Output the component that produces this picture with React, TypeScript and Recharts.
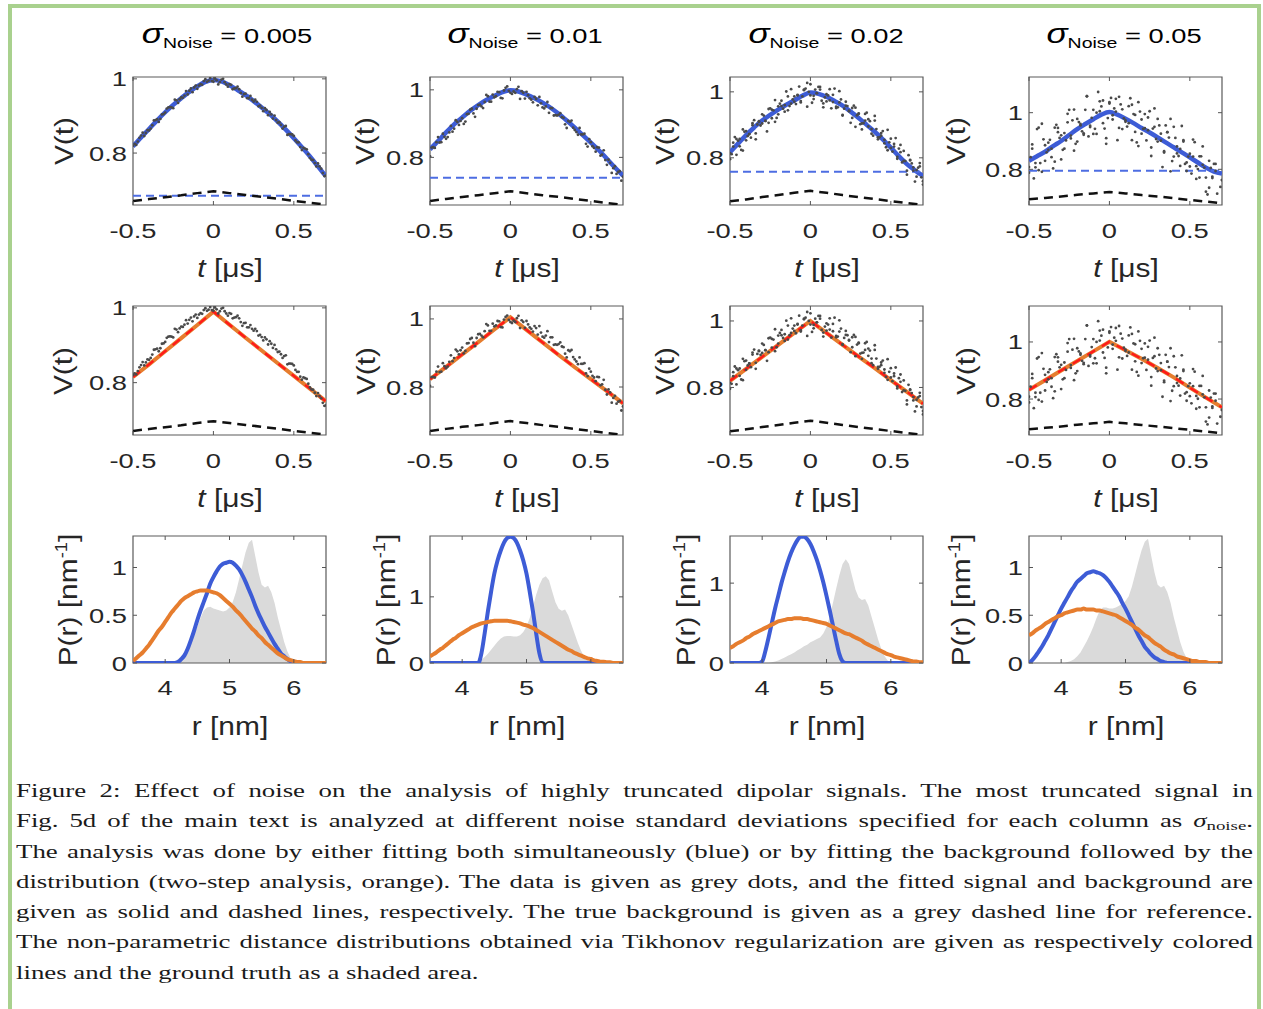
import React from 'react';
import {
  Area,
  ComposedChart,
  Line,
  ReferenceArea,
  ReferenceLine,
  Scatter,
  XAxis,
  YAxis,
} from 'recharts';

// ---- data ----

const noiseLevels = ['0.005', '0.01', '0.02', '0.05'];

// time axis of the noisy traces (interleaved sample sets)
const tData = [-0.5, -0.48, -0.46, -0.44, -0.42, -0.4, -0.38, -0.36, -0.34, -0.32, -0.3, -0.28, -0.26, -0.24, -0.22, -0.2, -0.18, -0.16, -0.14, -0.12, -0.1, -0.08, -0.06, -0.04, -0.02, 0, 0.02, 0.04, 0.06, 0.08, 0.1, 0.12, 0.14, 0.16, 0.18, 0.2, 0.22, 0.24, 0.26, 0.28, 0.3, 0.32, 0.34, 0.36, 0.38, 0.4, 0.42, 0.44, 0.46, 0.48, 0.5, 0.52, 0.54, 0.56, 0.58, 0.6, 0.62, 0.64, 0.66, 0.68, 0.7];
const tMid = [-0.49, -0.47, -0.45, -0.43, -0.41, -0.39, -0.37, -0.35, -0.33, -0.31, -0.29, -0.27, -0.25, -0.23, -0.21, -0.19, -0.17, -0.15, -0.13, -0.11, -0.09, -0.07, -0.05, -0.03, -0.01, 0.01, 0.03, 0.05, 0.07, 0.09, 0.11, 0.13, 0.15, 0.17, 0.19, 0.21, 0.23, 0.25, 0.27, 0.29, 0.31, 0.33, 0.35, 0.37, 0.39, 0.41, 0.43, 0.45, 0.47, 0.49, 0.51, 0.53, 0.55, 0.57, 0.59, 0.61, 0.63, 0.65, 0.67, 0.69];

const noisy1a = [0.820, 0.822, 0.841, 0.855, 0.854, 0.861, 0.875, 0.889, 0.884, 0.904, 0.909, 0.923, 0.923, 0.944, 0.935, 0.950, 0.955, 0.958, 0.974, 0.977, 0.973, 0.986, 0.994, 0.992, 1.002, 0.992, 0.996, 0.991, 1.000, 0.985, 0.986, 0.972, 0.975, 0.972, 0.952, 0.960, 0.948, 0.944, 0.944, 0.926, 0.922, 0.921, 0.902, 0.904, 0.901, 0.882, 0.876, 0.871, 0.849, 0.851, 0.846, 0.829, 0.816, 0.814, 0.810, 0.787, 0.781, 0.764, 0.764, 0.746, 0.739];
const noisy1b = [0.825, 0.831, 0.847, 0.846, 0.862, 0.866, 0.888, 0.891, 0.892, 0.905, 0.920, 0.924, 0.921, 0.942, 0.945, 0.949, 0.967, 0.968, 0.964, 0.982, 0.982, 0.984, 0.999, 0.995, 0.994, 1.001, 0.985, 0.998, 0.991, 0.979, 0.984, 0.974, 0.979, 0.962, 0.959, 0.948, 0.954, 0.939, 0.938, 0.928, 0.913, 0.916, 0.911, 0.893, 0.889, 0.883, 0.866, 0.873, 0.851, 0.850, 0.834, 0.829, 0.808, 0.812, 0.797, 0.782, 0.773, 0.772, 0.758, 0.738];
const noisy2a = [0.803, 0.830, 0.845, 0.844, 0.870, 0.855, 0.874, 0.876, 0.910, 0.896, 0.916, 0.906, 0.929, 0.944, 0.920, 0.955, 0.951, 0.964, 0.981, 0.965, 0.978, 0.994, 0.976, 0.998, 1.010, 0.991, 0.995, 1.002, 0.973, 0.991, 0.994, 0.975, 0.963, 0.973, 0.979, 0.948, 0.951, 0.932, 0.946, 0.925, 0.926, 0.919, 0.898, 0.908, 0.909, 0.881, 0.867, 0.868, 0.870, 0.832, 0.845, 0.828, 0.830, 0.805, 0.821, 0.778, 0.784, 0.768, 0.751, 0.759, 0.743];
const noisy2b = [0.829, 0.828, 0.860, 0.845, 0.861, 0.860, 0.893, 0.885, 0.905, 0.908, 0.899, 0.928, 0.941, 0.930, 0.944, 0.956, 0.946, 0.985, 0.965, 0.986, 0.981, 0.993, 0.975, 1.006, 0.997, 0.988, 0.991, 1.009, 0.996, 0.974, 0.984, 0.971, 0.979, 0.954, 0.960, 0.945, 0.964, 0.946, 0.924, 0.924, 0.931, 0.917, 0.887, 0.905, 0.888, 0.875, 0.887, 0.868, 0.840, 0.854, 0.833, 0.817, 0.829, 0.808, 0.792, 0.793, 0.754, 0.774, 0.757, 0.731];
const noisy3a = [0.814, 0.846, 0.809, 0.857, 0.886, 0.853, 0.872, 0.899, 0.856, 0.909, 0.932, 0.912, 0.906, 0.946, 0.975, 0.932, 0.957, 0.940, 0.986, 0.964, 0.986, 0.991, 0.968, 1.007, 1.027, 0.989, 0.978, 0.996, 1.015, 0.953, 0.993, 0.974, 0.991, 0.955, 1.002, 0.930, 0.958, 0.941, 0.921, 0.952, 0.935, 0.886, 0.913, 0.917, 0.887, 0.913, 0.856, 0.867, 0.844, 0.885, 0.830, 0.842, 0.797, 0.817, 0.821, 0.749, 0.794, 0.761, 0.763, 0.774, 0.719];
const noisy3b = [0.811, 0.863, 0.852, 0.824, 0.879, 0.866, 0.861, 0.914, 0.901, 0.898, 0.928, 0.880, 0.950, 0.944, 0.921, 0.964, 0.949, 1.001, 0.957, 0.977, 0.963, 1.016, 0.986, 1.010, 1.000, 0.967, 1.007, 1.015, 0.973, 0.983, 0.989, 0.950, 1.010, 0.953, 0.977, 0.949, 0.957, 0.906, 0.958, 0.929, 0.902, 0.905, 0.937, 0.911, 0.867, 0.887, 0.862, 0.881, 0.832, 0.847, 0.819, 0.860, 0.828, 0.786, 0.790, 0.808, 0.783, 0.728, 0.770, 0.741];
const noisy3c = [0.796, 0.834, 0.857, 0.835, 0.822, 0.881, 0.872, 0.905, 0.874, 0.911, 0.904, 0.912, 0.948, 0.920, 0.909, 0.956, 0.973, 0.960, 0.944, 1.008, 0.970, 0.989, 0.972, 1.005, 0.955, 1.023, 0.988, 0.996, 1.007, 0.965, 0.971, 1.008, 0.969, 0.951, 0.968, 0.928, 0.970, 0.943, 0.951, 0.894, 0.933, 0.904, 0.933, 0.895, 0.873, 0.927, 0.862, 0.875, 0.854, 0.823, 0.858, 0.834, 0.803, 0.839, 0.791, 0.761, 0.792, 0.771, 0.743, 0.784, 0.729];
const noisy4a = [0.808, 0.873, 0.807, 0.947, 0.791, 0.885, 0.869, 0.843, 0.947, 0.931, 0.835, 0.928, 0.966, 0.919, 1.011, 0.898, 0.955, 0.927, 1.058, 0.949, 1.010, 0.925, 1.005, 1.043, 0.890, 1.032, 0.976, 1.004, 1.056, 0.942, 0.973, 1.023, 0.903, 0.992, 1.037, 0.926, 0.945, 0.983, 0.847, 0.950, 0.978, 0.901, 0.859, 0.931, 0.978, 0.845, 0.881, 0.812, 0.903, 0.824, 0.855, 0.845, 0.766, 0.846, 0.881, 0.771, 0.735, 0.774, 0.819, 0.663, 0.762];
const noisy4b = [0.843, 0.768, 0.942, 0.822, 0.906, 0.860, 0.904, 0.803, 0.957, 0.911, 0.869, 0.902, 1.010, 0.973, 0.890, 0.967, 0.934, 1.010, 0.916, 0.982, 0.943, 1.073, 1.022, 0.944, 0.981, 1.052, 1.015, 0.903, 1.029, 0.980, 0.951, 1.051, 0.995, 0.895, 1.004, 0.943, 0.902, 1.005, 0.944, 0.907, 0.955, 0.808, 0.955, 0.912, 0.829, 0.911, 0.847, 0.953, 0.819, 0.845, 0.785, 0.896, 0.801, 0.846, 0.806, 0.711, 0.805, 0.819, 0.714, 0.738];
const noisy4c = [0.788, 0.888, 0.822, 0.797, 0.961, 0.830, 0.894, 0.873, 0.827, 0.946, 0.920, 0.873, 0.996, 0.909, 0.866, 0.978, 0.960, 0.922, 1.058, 0.954, 0.925, 1.000, 1.040, 0.963, 0.910, 1.037, 0.991, 1.049, 0.946, 1.012, 0.968, 0.963, 1.028, 0.932, 0.882, 0.976, 0.995, 0.938, 0.877, 1.015, 0.898, 0.926, 0.864, 0.931, 0.793, 0.950, 0.856, 0.872, 0.898, 0.794, 0.810, 0.905, 0.811, 0.771, 0.816, 0.721, 0.830, 0.769, 0.794, 0.658, 0.762];

// simultaneous fit (blue), row 1
const tFit = [-0.5, -0.45, -0.4, -0.35, -0.3, -0.25, -0.2, -0.15, -0.1, -0.05, 0, 0.05, 0.1, 0.15, 0.2, 0.25, 0.3, 0.35, 0.4, 0.45, 0.5, 0.55, 0.6, 0.65, 0.7];
const blueFit1 = [0.818, 0.842, 0.865, 0.888, 0.910, 0.930, 0.948, 0.965, 0.980, 0.992, 0.997, 0.993, 0.983, 0.970, 0.956, 0.940, 0.923, 0.905, 0.885, 0.863, 0.840, 0.816, 0.791, 0.764, 0.737];
const blueFit2 = [0.824, 0.848, 0.874, 0.898, 0.918, 0.938, 0.955, 0.970, 0.982, 0.993, 0.999, 0.995, 0.986, 0.975, 0.962, 0.947, 0.929, 0.909, 0.888, 0.866, 0.844, 0.821, 0.796, 0.770, 0.746];
const blueFit3 = [0.817, 0.843, 0.869, 0.892, 0.913, 0.930, 0.946, 0.961, 0.974, 0.988, 0.998, 0.994, 0.985, 0.972, 0.958, 0.940, 0.921, 0.900, 0.879, 0.856, 0.831, 0.805, 0.781, 0.762, 0.745];
const blueFit4 = [0.830, 0.846, 0.862, 0.882, 0.900, 0.921, 0.942, 0.960, 0.977, 0.993, 1.002, 0.993, 0.979, 0.963, 0.946, 0.930, 0.913, 0.895, 0.878, 0.860, 0.842, 0.824, 0.806, 0.792, 0.785];
const blueBg = [0.685, 0.74, 0.758, 0.795];

// two-step fit (orange) and true background
const tTri = [-0.5, -0.4, -0.3, -0.2, -0.1, 0, 0.1, 0.2, 0.3, 0.4, 0.5, 0.6, 0.7];
const orangeFit1 = [0.815, 0.849, 0.884, 0.919, 0.954, 0.990, 0.955, 0.920, 0.886, 0.852, 0.818, 0.784, 0.750];
const orangeFit2 = [0.823, 0.859, 0.896, 0.932, 0.969, 1.005, 0.968, 0.931, 0.894, 0.858, 0.823, 0.788, 0.752];
const orangeFit3 = [0.820, 0.856, 0.892, 0.928, 0.964, 1.000, 0.964, 0.928, 0.893, 0.858, 0.822, 0.787, 0.751];
const orangeFit4 = [0.832, 0.866, 0.900, 0.933, 0.967, 1.001, 0.971, 0.941, 0.909, 0.876, 0.840, 0.805, 0.771];
const trueBg1 = [0.671, 0.676, 0.681, 0.686, 0.692, 0.697, 0.692, 0.687, 0.682, 0.677, 0.671, 0.666, 0.661];
const trueBg2 = [0.671, 0.677, 0.683, 0.688, 0.694, 0.700, 0.694, 0.688, 0.683, 0.677, 0.671, 0.665, 0.659];
const trueBg3 = [0.668, 0.674, 0.681, 0.687, 0.694, 0.700, 0.694, 0.687, 0.681, 0.675, 0.669, 0.663, 0.657];
const trueBg4 = [0.694, 0.699, 0.704, 0.710, 0.715, 0.720, 0.715, 0.709, 0.704, 0.698, 0.692, 0.686, 0.680];

// distance distributions, row 3
const rGrid = [3.5, 3.55, 3.6, 3.65, 3.7, 3.75, 3.8, 3.85, 3.9, 3.95, 4, 4.05, 4.1, 4.15, 4.2, 4.25, 4.3, 4.35, 4.4, 4.45, 4.5, 4.55, 4.6, 4.65, 4.7, 4.75, 4.8, 4.85, 4.9, 4.95, 5, 5.05, 5.1, 5.15, 5.2, 5.25, 5.3, 5.35, 5.4, 5.45, 5.5, 5.55, 5.6, 5.65, 5.7, 5.75, 5.8, 5.85, 5.9, 5.95, 6, 6.05, 6.1, 6.15, 6.2, 6.25, 6.3, 6.35, 6.4, 6.45, 6.5];
const truth1 = [0, 0, 0, 0, 0, 0, 0, 0, 0, 0, 0, 0, 0.01, 0.02, 0.04, 0.07, 0.11, 0.17, 0.23, 0.30, 0.38, 0.47, 0.55, 0.58, 0.59, 0.57, 0.56, 0.55, 0.54, 0.55, 0.58, 0.64, 0.74, 0.88, 1.02, 1.16, 1.26, 1.29, 1.12, 0.95, 0.82, 0.79, 0.81, 0.74, 0.63, 0.48, 0.35, 0.22, 0.12, 0.05, 0.02, 0, 0, 0, 0, 0, 0, 0, 0, 0, 0];
const truth2 = [0, 0, 0, 0, 0, 0, 0, 0, 0, 0, 0, 0, 0, 0, 0, 0.02, 0.05, 0.09, 0.14, 0.20, 0.26, 0.32, 0.37, 0.40, 0.41, 0.41, 0.40, 0.40, 0.42, 0.47, 0.55, 0.68, 0.85, 1.03, 1.18, 1.28, 1.31, 1.25, 1.08, 0.92, 0.82, 0.79, 0.81, 0.72, 0.58, 0.44, 0.30, 0.18, 0.09, 0.04, 0.01, 0, 0, 0, 0, 0, 0, 0, 0, 0, 0];
const truth3 = [0, 0, 0, 0, 0, 0, 0, 0, 0, 0, 0, 0, 0, 0.01, 0.02, 0.03, 0.05, 0.07, 0.09, 0.11, 0.13, 0.16, 0.18, 0.21, 0.23, 0.26, 0.28, 0.30, 0.32, 0.37, 0.45, 0.58, 0.75, 0.93, 1.10, 1.24, 1.30, 1.24, 1.08, 0.92, 0.82, 0.79, 0.80, 0.72, 0.58, 0.44, 0.30, 0.18, 0.09, 0.03, 0, 0, 0, 0, 0, 0, 0, 0, 0, 0, 0];
const truth4 = [0, 0, 0, 0, 0, 0, 0, 0, 0, 0, 0, 0, 0.01, 0.02, 0.04, 0.07, 0.11, 0.17, 0.23, 0.30, 0.38, 0.47, 0.55, 0.58, 0.58, 0.57, 0.57, 0.58, 0.60, 0.62, 0.65, 0.70, 0.80, 0.93, 1.06, 1.18, 1.27, 1.30, 1.12, 0.95, 0.82, 0.79, 0.81, 0.74, 0.63, 0.48, 0.35, 0.22, 0.12, 0.05, 0.02, 0, 0, 0, 0, 0, 0, 0, 0, 0, 0];
const pBlue1 = [0, 0, 0, 0, 0, 0, 0, 0, 0, 0, 0, 0, 0, 0, 0.01, 0.04, 0.08, 0.15, 0.24, 0.34, 0.45, 0.55, 0.64, 0.73, 0.83, 0.90, 0.96, 1.01, 1.04, 1.05, 1.06, 1.05, 1.02, 0.98, 0.92, 0.85, 0.77, 0.69, 0.60, 0.52, 0.45, 0.38, 0.32, 0.26, 0.20, 0.15, 0.10, 0.07, 0.04, 0.02, 0.01, 0, 0, 0, 0, 0, 0, 0, 0, 0, 0];
const pBlue2 = [0, 0, 0, 0, 0, 0, 0, 0, 0, 0, 0, 0, 0, 0, 0, 0, 0.15, 0.45, 0.78, 1.08, 1.35, 1.55, 1.70, 1.82, 1.89, 1.91, 1.89, 1.82, 1.70, 1.55, 1.35, 1.08, 0.78, 0.45, 0.15, 0.01, 0, 0, 0, 0, 0, 0, 0, 0, 0, 0, 0, 0, 0, 0, 0, 0, 0, 0, 0, 0, 0, 0, 0, 0, 0];
const pBlue3 = [0, 0, 0, 0, 0, 0, 0, 0, 0, 0, 0.02, 0.15, 0.32, 0.50, 0.68, 0.84, 1.00, 1.14, 1.27, 1.38, 1.47, 1.54, 1.58, 1.58, 1.55, 1.49, 1.40, 1.29, 1.16, 1.01, 0.84, 0.66, 0.47, 0.28, 0.11, 0.02, 0, 0, 0, 0, 0, 0, 0, 0, 0, 0, 0, 0, 0, 0, 0, 0, 0, 0, 0, 0, 0, 0, 0, 0, 0];
const pBlue4 = [0, 0.03, 0.07, 0.12, 0.17, 0.23, 0.29, 0.36, 0.43, 0.50, 0.57, 0.63, 0.69, 0.75, 0.80, 0.85, 0.88, 0.91, 0.94, 0.95, 0.96, 0.95, 0.94, 0.92, 0.89, 0.85, 0.80, 0.75, 0.70, 0.63, 0.57, 0.50, 0.43, 0.36, 0.29, 0.23, 0.17, 0.13, 0.09, 0.06, 0.04, 0.02, 0.01, 0, 0, 0, 0, 0, 0, 0, 0, 0, 0, 0, 0, 0, 0, 0, 0, 0, 0];
const pOrange1 = [0.02, 0.05, 0.08, 0.11, 0.15, 0.19, 0.24, 0.29, 0.34, 0.38, 0.43, 0.48, 0.53, 0.57, 0.61, 0.65, 0.68, 0.70, 0.72, 0.74, 0.75, 0.76, 0.76, 0.76, 0.75, 0.74, 0.73, 0.71, 0.68, 0.65, 0.62, 0.59, 0.55, 0.52, 0.48, 0.44, 0.40, 0.36, 0.33, 0.29, 0.26, 0.22, 0.19, 0.16, 0.13, 0.10, 0.08, 0.06, 0.04, 0.03, 0.02, 0.01, 0.01, 0, 0, 0, 0, 0, 0, 0, 0];
const pOrange2 = [0.10, 0.13, 0.16, 0.20, 0.23, 0.27, 0.31, 0.35, 0.38, 0.42, 0.45, 0.48, 0.51, 0.54, 0.56, 0.58, 0.60, 0.61, 0.62, 0.63, 0.64, 0.64, 0.64, 0.64, 0.64, 0.63, 0.62, 0.61, 0.60, 0.58, 0.57, 0.55, 0.53, 0.50, 0.47, 0.44, 0.41, 0.38, 0.35, 0.32, 0.29, 0.26, 0.23, 0.20, 0.18, 0.15, 0.13, 0.11, 0.09, 0.07, 0.06, 0.04, 0.03, 0.02, 0.02, 0.01, 0.01, 0, 0, 0, 0];
const pOrange3 = [0.19, 0.21, 0.24, 0.26, 0.28, 0.31, 0.33, 0.36, 0.38, 0.40, 0.42, 0.44, 0.46, 0.48, 0.50, 0.52, 0.53, 0.54, 0.55, 0.55, 0.56, 0.56, 0.56, 0.55, 0.55, 0.54, 0.53, 0.52, 0.51, 0.50, 0.49, 0.47, 0.45, 0.43, 0.41, 0.39, 0.37, 0.36, 0.34, 0.32, 0.30, 0.28, 0.25, 0.23, 0.21, 0.19, 0.17, 0.15, 0.13, 0.11, 0.10, 0.08, 0.07, 0.06, 0.05, 0.04, 0.03, 0.02, 0.02, 0.01, 0.01];
const pOrange4 = [0.29, 0.31, 0.34, 0.36, 0.38, 0.41, 0.43, 0.45, 0.47, 0.49, 0.50, 0.52, 0.53, 0.54, 0.55, 0.56, 0.56, 0.57, 0.56, 0.56, 0.56, 0.55, 0.55, 0.54, 0.53, 0.52, 0.51, 0.50, 0.48, 0.46, 0.44, 0.42, 0.40, 0.37, 0.35, 0.32, 0.29, 0.27, 0.24, 0.21, 0.19, 0.17, 0.14, 0.12, 0.10, 0.09, 0.07, 0.06, 0.05, 0.04, 0.03, 0.02, 0.02, 0.01, 0.01, 0.01, 0, 0, 0, 0, 0];

// axis ranges per column
const vDomains: [number, number][] = [[0.66, 1.005], [0.659, 1.038], [0.657, 1.045], [0.674, 1.126]];
const pDomains: [number, number][] = [[0, 1.33], [0, 1.92], [0, 1.59], [0, 1.33]];
const pTicks = [[0, 0.5, 1], [0, 1], [0, 1], [0, 0.5, 1]];

const captionLines = [
  'Figure 2: Effect of noise on the analysis of highly truncated dipolar signals. The most truncated signal in',
  'Fig. 5d of the main text is analyzed at different noise standard deviations specified for each column as ',
  'The analysis was done by either fitting both simultaneously (blue) or by fitting the background followed by the',
  'distribution (two-step analysis, orange). The data is given as grey dots, and the fitted signal and background are',
  'given as solid and dashed lines, respectively. The true background is given as a grey dashed line for reference.',
  'The non-parametric distance distributions obtained via Tikhonov regularization are given as respectively colored',
  'lines and the ground truth as a shaded area.',
];

const noisyA = [noisy1a, noisy2a, noisy3a, noisy4a];
const noisyB = [noisy1b, noisy2b, noisy3b, noisy4b];
const noisyC = [null, null, noisy3c, noisy4c];
const blueFits = [blueFit1, blueFit2, blueFit3, blueFit4];
const orangeFits = [orangeFit1, orangeFit2, orangeFit3, orangeFit4];
const trueBgs = [trueBg1, trueBg2, trueBg3, trueBg4];
const truths = [truth1, truth2, truth3, truth4];
const pBlues = [pBlue1, pBlue2, pBlue3, pBlue4];
const pOranges = [pOrange1, pOrange2, pOrange3, pOrange4];

// ---- layout / style ----

const SANS = '"Liberation Sans", Arial, Helvetica, sans-serif';
const SERIF = '"Liberation Serif", "Times New Roman", serif';
const INK = '#262626';
const BLUE = '#3d5cd6';
const BLUE_DASH = '#4d6de2';
const ORANGE = '#e67d2e';
const RED = '#ff1a1a';

const colLeft = [133, 430, 730, 1029];
const colTitleX = [227, 525, 826, 1124];
const rowTop = [77, 306, 536];
const rowHeight = [128, 129, 127];
const PLOT_W = 193;
const Y_AXIS_W = 90;
const TOP_PAD = 10;
const RIGHT_PAD = 12;
const X_AXIS_H = 50;
const TICK_LEN = 4;
const yLabelOffset = [
  [-69.5, -65, -65, -73],
  [-70.5, -64, -65, -63],
  [-65.5, -44, -44, -68.5],
];

const pts = (xs: number[], ys: number[]) => xs.map((x, i) => ({ x, y: ys[i] }));

const dot = (props: any) => <circle cx={props.cx} cy={props.cy} r={1.4} fill="#4a4a4a" />;

// tick label plus MATLAB-style inward ticks on bottom and top edges
const makeXTick = (offset: number, plotH: number) => (props: any) => {
  const { x, y } = props;
  return (
    <g>
      <line x1={x} y1={y} x2={x} y2={y - TICK_LEN} stroke="#555" strokeWidth={1} />
      <line x1={x} y1={y - plotH} x2={x} y2={y - plotH + TICK_LEN} stroke="#555" strokeWidth={1} />
      <text
        transform={`translate(${x},${y + offset}) scale(1.3,1)`}
        textAnchor="middle"
        fontFamily={SANS}
        fontSize={21}
        fill={INK}
      >
        {props.payload.value}
      </text>
    </g>
  );
};

// tick label plus inward ticks on left and right edges
const YTick = (props: any) => {
  const { x, y } = props;
  return (
    <g>
      <line x1={x} y1={y} x2={x + TICK_LEN} y2={y} stroke="#555" strokeWidth={1} />
      <line x1={x + PLOT_W} y1={y} x2={x + PLOT_W - TICK_LEN} y2={y} stroke="#555" strokeWidth={1} />
      <text
        transform={`translate(${x - 6},${y + 7.5}) scale(1.3,1)`}
        textAnchor="end"
        fontFamily={SANS}
        fontSize={21}
        fill={INK}
      >
        {props.payload.value}
      </text>
    </g>
  );
};

const labelStyle: React.CSSProperties = {
  position: 'absolute',
  whiteSpace: 'nowrap',
  fontFamily: SANS,
  fontSize: 26,
  lineHeight: 1,
  color: INK,
};

type PanelProps = {
  row: number;
  col: number;
  xDomain: [number, number];
  yDomain: [number, number];
  xTicks: number[];
  yTicks: number[];
  series: React.ReactNode[];
  xLabel: React.ReactNode;
  yLabel: React.ReactNode;
};

function Panel({ row, col, xDomain, yDomain, xTicks, yTicks, series, xLabel, yLabel }: PanelProps) {
  const h = rowHeight[row];
  const width = Y_AXIS_W + PLOT_W + RIGHT_PAD;
  const height = TOP_PAD + h + X_AXIS_H;
  return (
    <div style={{ position: 'absolute', left: colLeft[col] - Y_AXIS_W, top: rowTop[row] - TOP_PAD, width, height }}>
      <ComposedChart width={width} height={height} margin={{ top: TOP_PAD, right: RIGHT_PAD, bottom: 0, left: 0 }}>
        <XAxis
          type="number"
          dataKey="x"
          domain={xDomain}
          ticks={xTicks}
          interval={0}
          allowDataOverflow
          axisLine={false}
          tickLine={false}
          tickSize={0}
          tickMargin={0}
          height={X_AXIS_H}
          tick={makeXTick(row === 2 ? 32 : 33, h)}
        />
        <YAxis
          type="number"
          dataKey="y"
          domain={yDomain}
          ticks={yTicks}
          interval={0}
          allowDataOverflow
          axisLine={false}
          tickLine={false}
          tickSize={0}
          tickMargin={0}
          width={Y_AXIS_W}
          tick={YTick}
        />
        {series}
        <ReferenceArea
          x1={xDomain[0]}
          x2={xDomain[1]}
          y1={yDomain[0]}
          y2={yDomain[1]}
          fill="none"
          fillOpacity={0}
          stroke="#5a5a5a"
          strokeWidth={1.2}
        />
      </ComposedChart>
      <div
        style={{
          ...labelStyle,
          left: Y_AXIS_W + PLOT_W / 2,
          top: TOP_PAD + h + 63,
          transform: 'translate(-50%, -50%) scale(1.15, 1)',
        }}
      >
        {xLabel}
      </div>
      <div
        style={{
          ...labelStyle,
          left: Y_AXIS_W + yLabelOffset[row][col],
          top: TOP_PAD + h / 2,
          transform: 'translate(-50%, -50%) rotate(-90deg) scale(1.15, 1)',
        }}
      >
        {yLabel}
      </div>
    </div>
  );
}

const tLabel = (
  <>
    <i>t</i> [μs]
  </>
);
const vLabel = <>V(t)</>;
const rLabel = <>r [nm]</>;
const pLabel = (
  <>
    P(r) [nm<sup style={{ fontSize: 16, lineHeight: 0, verticalAlign: 10 }}>-1</sup>]
  </>
);

function traceSeries(col: number, twoStep: boolean) {
  const items: React.ReactNode[] = [
    <Scatter key="da" data={pts(tData, noisyA[col])} shape={dot} isAnimationActive={false} />,
    <Scatter key="db" data={pts(tMid, noisyB[col])} shape={dot} isAnimationActive={false} />,
  ];
  const extra = noisyC[col];
  if (extra) {
    items.push(<Scatter key="dc" data={pts(tData, extra)} shape={dot} isAnimationActive={false} />);
  }
  if (twoStep) {
    items.push(
      <Line key="fo" data={pts(tTri, orangeFits[col])} dataKey="y" type="linear" stroke={ORANGE} strokeWidth={4} dot={false} isAnimationActive={false} />,
      <Line key="fr" data={pts(tTri, orangeFits[col])} dataKey="y" type="linear" stroke={RED} strokeWidth={2.4} strokeDasharray="9 8" dot={false} isAnimationActive={false} />,
    );
  } else {
    items.push(
      <Line key="fb" data={pts(tFit, blueFits[col])} dataKey="y" type="monotone" stroke={BLUE} strokeWidth={4.5} dot={false} isAnimationActive={false} />,
      <ReferenceLine key="bb" y={blueBg[col]} stroke={BLUE_DASH} strokeWidth={2} strokeDasharray="8 5" />,
    );
  }
  items.push(
    <Line key="tb" data={pts(tTri, trueBgs[col])} dataKey="y" type="linear" stroke="#111" strokeWidth={2.5} strokeDasharray="9 6" dot={false} isAnimationActive={false} />,
  );
  return items;
}

function distSeries(col: number) {
  return [
    <Area key="gt" data={pts(rGrid, truths[col])} dataKey="y" type="linear" stroke="none" fill="#dadada" fillOpacity={1} isAnimationActive={false} />,
    <Line key="pb" data={pts(rGrid, pBlues[col])} dataKey="y" type="monotone" stroke={BLUE} strokeWidth={4} dot={false} isAnimationActive={false} />,
    <Line key="po" data={pts(rGrid, pOranges[col])} dataKey="y" type="monotone" stroke={ORANGE} strokeWidth={4} dot={false} isAnimationActive={false} />,
  ];
}

export default function App() {
  const cols = [0, 1, 2, 3];
  const capScale = 1.45;
  return (
    <div
      style={{
        position: 'absolute',
        left: 0,
        top: 0,
        width: 1263,
        height: 1009,
        overflow: 'hidden',
        background: '#fff',
      }}
    >
      <div
        style={{
          position: 'absolute',
          left: 8,
          top: 4,
          width: 1253,
          height: 1040,
          border: '4px solid #a9d18e',
          boxSizing: 'border-box',
        }}
      />

      <svg width={1263} height={70} style={{ position: 'absolute', left: 0, top: 0 }}>
        {cols.map((c) => (
          <text
            key={c}
            transform={`translate(${colTitleX[c]},43) scale(1.3,1)`}
            textAnchor="middle"
            fontFamily={SANS}
            fontSize={21}
            fill="#000"
          >
            <tspan fontStyle="italic" fontSize={27}>σ</tspan>
            <tspan fontSize={15} dy={5}>Noise</tspan>
            <tspan dy={-5}> = {noiseLevels[c]}</tspan>
          </text>
        ))}
      </svg>

      {cols.map((c) => (
        <Panel
          key={`v${c}`}
          row={0}
          col={c}
          xDomain={[-0.5, 0.7]}
          yDomain={vDomains[c]}
          xTicks={[-0.5, 0, 0.5]}
          yTicks={[0.8, 1]}
          series={traceSeries(c, false)}
          xLabel={tLabel}
          yLabel={vLabel}
        />
      ))}
      {cols.map((c) => (
        <Panel
          key={`w${c}`}
          row={1}
          col={c}
          xDomain={[-0.5, 0.7]}
          yDomain={vDomains[c]}
          xTicks={[-0.5, 0, 0.5]}
          yTicks={[0.8, 1]}
          series={traceSeries(c, true)}
          xLabel={tLabel}
          yLabel={vLabel}
        />
      ))}
      {cols.map((c) => (
        <Panel
          key={`p${c}`}
          row={2}
          col={c}
          xDomain={[3.5, 6.5]}
          yDomain={pDomains[c]}
          xTicks={[4, 5, 6]}
          yTicks={pTicks[c]}
          series={distSeries(c)}
          xLabel={rLabel}
          yLabel={pLabel}
        />
      ))}

      <div
        style={{
          position: 'absolute',
          left: 16,
          top: 776,
          width: 1237 / capScale,
          transform: `scale(${capScale}, 1)`,
          transformOrigin: 'left top',
          fontFamily: SERIF,
          fontSize: 18.5,
          color: '#1a1a1a',
        }}
      >
        {captionLines.map((line, i) => (
          <div
            key={i}
            style={{
              height: 30.25,
              lineHeight: '30.25px',
              textAlign: i < 6 ? 'justify' : 'left',
              textAlignLast: i < 6 ? 'justify' : 'left',
            }}
          >
            {line}
            {i === 1 && (
              <>
                <i>σ</i>
                <sub style={{ fontSize: 13, lineHeight: 0, verticalAlign: -3 }}>noise</sub>.
              </>
            )}
          </div>
        ))}
      </div>
    </div>
  );
}
